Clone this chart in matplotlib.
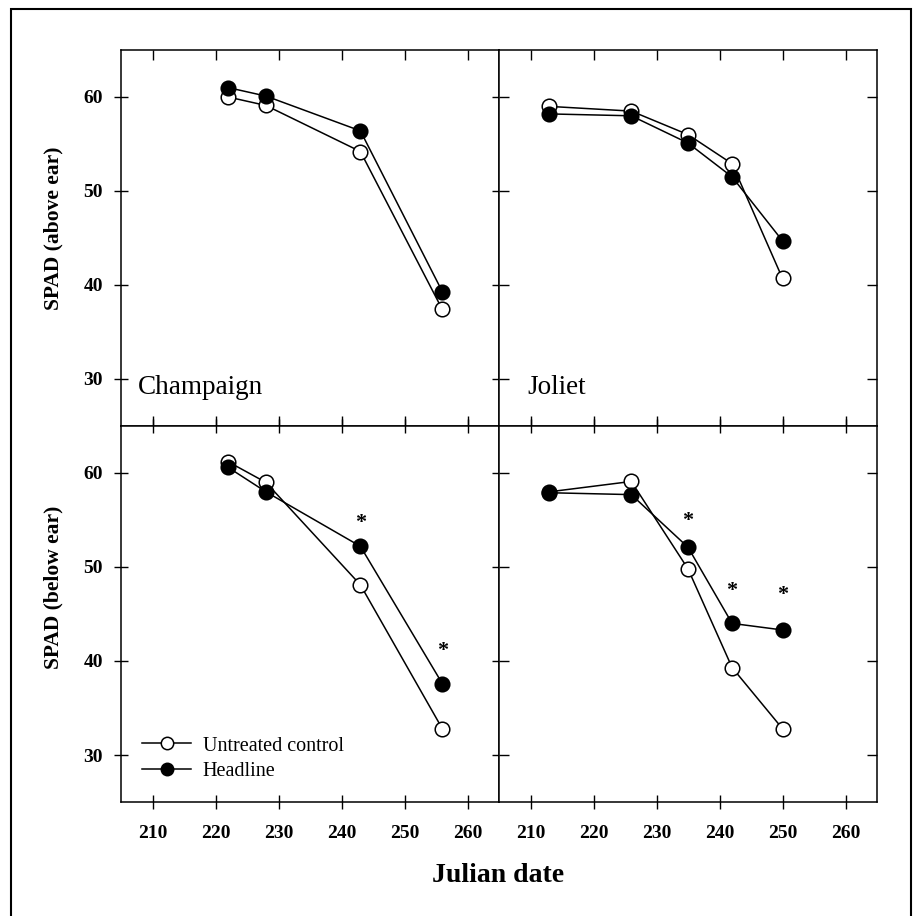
import matplotlib
matplotlib.use("Agg")
import matplotlib.pyplot as plt
from matplotlib.patches import Rectangle

plt.rcParams['font.family'] = ['Liberation Serif', 'DejaVu Serif']

# Champaign, SPAD above ear
champ_days = [222, 228, 243, 256]
champ_above_ctrl = [60.0, 59.1, 54.2, 37.4]
champ_above_head = [61.0, 60.1, 56.4, 39.3]
# Champaign, SPAD below ear
champ_below_ctrl = [61.2, 59.0, 48.1, 32.8]
champ_below_head = [60.6, 58.0, 52.2, 37.6]
champ_star_days = [243, 256]
champ_star_y = [54.7, 41.1]

# Joliet
joliet_days = [213, 226, 235, 242, 250]
joliet_above_ctrl = [59.0, 58.5, 56.0, 52.9, 40.7]
joliet_above_head = [58.2, 58.0, 55.1, 51.5, 44.7]
joliet_below_ctrl = [58.0, 59.1, 49.8, 39.3, 32.8]
joliet_below_head = [57.9, 57.7, 52.1, 44.0, 43.3]
joliet_star_days = [235, 242, 250]
joliet_star_y = [54.9, 47.4, 47.0]

x_ticks = [210, 220, 230, 240, 250, 260]
y_ticks = [30, 40, 50, 60]
site_names = ['Champaign', 'Joliet']
series_names = ['Untreated control', 'Headline']

W, H = 917, 916
fig = plt.figure(figsize=(W / 100, H / 100), dpi=100)

left, right, top, bottom = 121, 877, 50, 802
pw = (right - left) / 2
ph = (bottom - top) / 2

panels = {}
for r in range(2):
    for c in range(2):
        x0 = (left + c * pw) / W
        y0 = 1 - (top + (r + 1) * ph) / H
        panels[(r, c)] = fig.add_axes([x0, y0, pw / W, ph / H])

data = {
    (0, 0): (champ_days, champ_above_ctrl, champ_above_head, [], []),
    (0, 1): (joliet_days, joliet_above_ctrl, joliet_above_head, [], []),
    (1, 0): (champ_days, champ_below_ctrl, champ_below_head, champ_star_days, champ_star_y),
    (1, 1): (joliet_days, joliet_below_ctrl, joliet_below_head, joliet_star_days, joliet_star_y),
}

for (r, c), ax in panels.items():
    days, ctrl, head, sx, sy = data[(r, c)]
    ax.plot(days, ctrl, '-o', color='black', mfc='white', mec='black',
            ms=10.5, mew=1.1, lw=1.1, label=series_names[0], zorder=3)
    ax.plot(days, head, '-o', color='black', mfc='black', mec='black',
            ms=10.5, mew=1.1, lw=1.1, label=series_names[1], zorder=4)
    for xs, ys in zip(sx, sy):
        ax.text(xs, ys, '*', ha='center', va='center', fontsize=16, fontweight='bold')
    ax.set_xlim(205, 265)
    ax.set_ylim(25, 65)
    ax.set_xticks(x_ticks)
    ax.set_yticks(y_ticks)
    for sp in ax.spines.values():
        sp.set_linewidth(1.1)
    ax.tick_params(axis='both', which='major', top=True, bottom=True, left=True, right=True,
                   direction='in', length=7, width=1.0, labelsize=14)
    if r == 1:
        ax.tick_params(axis='x', direction='inout', length=9.5, pad=12)
        for lab in ax.get_xticklabels():
            lab.set_fontweight('bold')
    else:
        ax.tick_params(axis='x', labelbottom=False)
    if c == 0:
        ax.tick_params(axis='y', direction='inout', length=10, pad=8)
        for lab in ax.get_yticklabels():
            lab.set_fontweight('bold')
    else:
        ax.tick_params(axis='y', labelleft=False)
    if r == 0:
        ax.text(0.045 if c == 0 else 0.074, 0.085, site_names[c], transform=ax.transAxes,
                ha='left', va='baseline', fontsize=19.5)

panels[(1, 0)].legend(loc='lower left', bbox_to_anchor=(0.03, 0.03), frameon=False,
                      fontsize=14.5, handlelength=2.4, handletextpad=0.6,
                      labelspacing=0.3, borderpad=0, markerscale=0.85)

fig.text(53 / W, 1 - 228 / H, 'SPAD (above ear)', rotation=90, ha='center', va='center',
         fontsize=15.5, fontweight='bold')
fig.text(53 / W, 1 - 587 / H, 'SPAD (below ear)', rotation=90, ha='center', va='center',
         fontsize=15.5, fontweight='bold')
fig.text(498 / W, 1 - 875 / H, 'Julian date', ha='center', va='center',
         fontsize=20, fontweight='bold')

# outer frame around the figure
fig.patches.append(Rectangle((11 / W, -0.02), 900 / W, 1.02 - 9 / H, transform=fig.transFigure,
                             fill=False, edgecolor='black', linewidth=1.5))

fig.savefig('out.png', dpi=100)
